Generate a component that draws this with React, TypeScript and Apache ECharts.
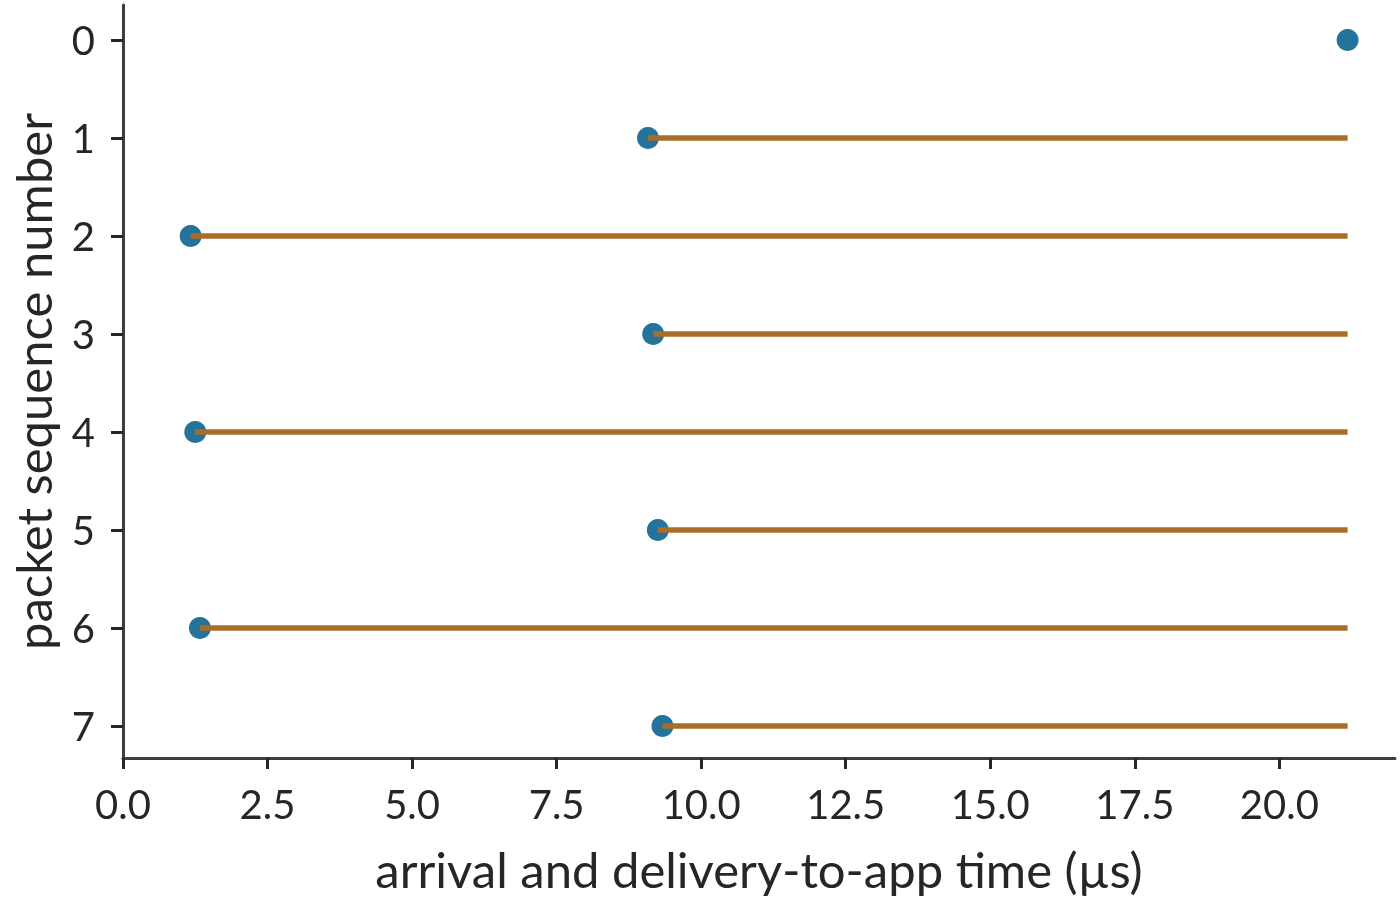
import { useEffect, useRef } from 'react';
import * as echarts from 'echarts';

// packet sequence numbers (y) and their arrival / delivery-to-app times in µs (x)
const SEQ = [0, 1, 2, 3, 4, 5, 6, 7];
const ARRIVAL = [21.18, 9.08, 1.17, 9.17, 1.25, 9.25, 1.33, 9.33];
const DELIVERY = [21.18, 21.18, 21.18, 21.18, 21.18, 21.18, 21.18, 21.18];
const X_TICKS = [0, 2.5, 5, 7.5, 10, 12.5, 15, 17.5, 20];

const DOT = '#24739b';
const BAR = '#a86d27';
const AXIS = '#3d3d3d';
const TEXT = '#262626';
const FONT = 'Lato';

export default function App() {
  const ref = useRef<HTMLDivElement | null>(null);

  useEffect(() => {
    if (!ref.current) return;
    const chart = echarts.init(ref.current, undefined, { renderer: 'svg' });

    const segs = SEQ.map((s, i) => [ARRIVAL[i], DELIVERY[i], s]);

    chart.setOption({
      animation: false,
      grid: { left: 123, right: 5, top: 5, bottom: 145 },
      xAxis: {
        type: 'value',
        min: 0,
        max: 22,
        splitLine: { show: false },
        axisLine: { show: true, onZero: false, lineStyle: { color: AXIS, width: 3 } },
        axisTick: { show: true, customValues: X_TICKS, length: 11, lineStyle: { color: TEXT, width: 3 } },
        axisLabel: {
          customValues: X_TICKS,
          formatter: (v: number) => v.toFixed(1),
          color: TEXT,
          fontSize: 40,
          fontFamily: FONT,
          margin: 26,
        },
        name: 'arrival and delivery-to-app time (µs)',
        nameLocation: 'middle',
        nameGap: 86,
        nameTextStyle: { color: TEXT, fontSize: 49, fontFamily: FONT },
      },
      yAxis: {
        type: 'value',
        inverse: true,
        min: -0.357,
        max: 7.327,
        splitLine: { show: false },
        axisLine: { show: true, onZero: false, lineStyle: { color: AXIS, width: 3 } },
        axisTick: { show: true, customValues: SEQ, length: 12, lineStyle: { color: TEXT, width: 3 } },
        axisLabel: {
          customValues: SEQ,
          color: TEXT,
          fontSize: 40,
          fontFamily: FONT,
          margin: 28,
        },
        name: 'packet sequence number',
        nameLocation: 'middle',
        nameGap: 66,
        nameTextStyle: { color: TEXT, fontSize: 49, fontFamily: FONT },
      },
      series: [
        {
          type: 'scatter',
          symbol: 'circle',
          symbolSize: 22,
          itemStyle: { color: DOT, opacity: 1 },
          data: SEQ.map((s, i) => [ARRIVAL[i], s]),
          z: 2,
        },
        {
          type: 'custom',
          z: 3,
          data: segs,
          encode: { x: [0, 1], y: 2 },
          renderItem: (_p: unknown, api: any) => {
            const a = api.coord([api.value(0), api.value(2)]);
            const b = api.coord([api.value(1), api.value(2)]);
            if (b[0] - a[0] < 1) return null;
            return {
              type: 'line',
              shape: { x1: a[0], y1: a[1], x2: b[0], y2: b[1] },
              style: { stroke: BAR, lineWidth: 5.5, lineCap: 'butt' },
            };
          },
        },
      ],
    });

    return () => chart.dispose();
  }, []);

  return <div ref={ref} style={{ position: 'fixed', left: 0, top: 0, width: 1400, height: 903 }} />;
}
